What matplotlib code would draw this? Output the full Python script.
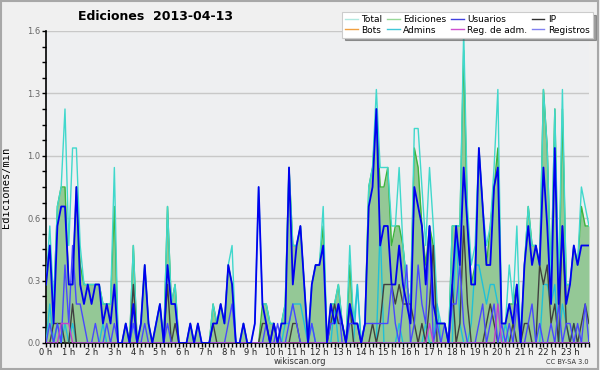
import matplotlib
matplotlib.use('Agg')
import matplotlib.pyplot as plt
import matplotlib.ticker as mticker
from matplotlib.lines import Line2D
from matplotlib.patches import Rectangle
import numpy as np

# edits per minute, one value per 10 minute slot (24 h x 6)
total = [
    0.3, 0.6, 0.2, 0.7, 0.8, 1.2,  0.5, 1.0, 1.0, 0.5, 0.3, 0.3,
    0.3, 0.3, 0.3, 0.2, 0.2, 0.2,  0.9, 0.0, 0.0, 0.1, 0.0, 0.5,
    0.0, 0.1, 0.4, 0.1, 0.0, 0.1,  0.2, 0.0, 0.7, 0.2, 0.3, 0.0,
    0.0, 0.0, 0.1, 0.0, 0.1, 0.0,  0.0, 0.0, 0.2, 0.1, 0.2, 0.1,
    0.4, 0.5, 0.0, 0.0, 0.1, 0.0,  0.0, 0.1, 0.8, 0.2, 0.2, 0.1,
    0.1, 0.0, 0.1, 0.2, 0.9, 0.5,  0.5, 0.6, 0.3, 0.0, 0.3, 0.4,
    0.4, 0.7, 0.0, 0.2, 0.2, 0.3,  0.1, 0.0, 0.5, 0.1, 0.3, 0.0,
    0.1, 0.8, 0.9, 1.3, 0.9, 0.9,  0.9, 0.6, 0.6, 0.9, 0.5, 0.3,
    0.2, 1.1, 1.1, 0.8, 0.5, 0.9,  0.6, 0.2, 0.1, 0.1, 0.0, 0.6,
    0.6, 0.6, 1.6, 0.7, 0.4, 0.5,  1.0, 0.7, 0.5, 0.6, 0.9, 1.3,
    0.1, 0.1, 0.4, 0.2, 0.6, 0.0,  0.4, 0.7, 0.5, 0.5, 0.4, 1.3,
    1.0, 0.3, 1.2, 0.3, 1.3, 0.3,  0.3, 0.5, 0.4, 0.8, 0.7, 0.6,
]
ediciones = [
    0.3, 0.5, 0.2, 0.7, 0.8, 0.8,  0.3, 0.3, 0.8, 0.4, 0.3, 0.3,
    0.3, 0.3, 0.3, 0.2, 0.2, 0.2,  0.7, 0.0, 0.0, 0.1, 0.0, 0.5,
    0.0, 0.1, 0.4, 0.1, 0.0, 0.1,  0.2, 0.0, 0.7, 0.2, 0.3, 0.0,
    0.0, 0.0, 0.1, 0.0, 0.1, 0.0,  0.0, 0.0, 0.2, 0.1, 0.2, 0.1,
    0.4, 0.3, 0.0, 0.0, 0.1, 0.0,  0.0, 0.0, 0.0, 0.2, 0.2, 0.1,
    0.1, 0.0, 0.1, 0.2, 0.9, 0.5,  0.5, 0.6, 0.3, 0.0, 0.3, 0.4,
    0.4, 0.6, 0.0, 0.2, 0.2, 0.3,  0.1, 0.0, 0.4, 0.1, 0.1, 0.0,
    0.1, 0.8, 0.9, 1.2, 0.8, 0.8,  0.9, 0.5, 0.6, 0.6, 0.5, 0.3,
    0.2, 1.0, 0.9, 0.6, 0.4, 0.6,  0.5, 0.1, 0.1, 0.1, 0.0, 0.6,
    0.6, 0.6, 1.5, 0.6, 0.3, 0.4,  1.0, 0.7, 0.4, 0.6, 0.8, 1.0,
    0.1, 0.1, 0.2, 0.2, 0.3, 0.0,  0.4, 0.7, 0.5, 0.5, 0.4, 1.3,
    1.0, 0.3, 1.2, 0.2, 1.2, 0.3,  0.3, 0.5, 0.4, 0.7, 0.6, 0.6,
]
usuarios = [
    0.3, 0.5, 0.1, 0.6, 0.7, 0.7,  0.3, 0.3, 0.8, 0.3, 0.2, 0.3,
    0.2, 0.3, 0.3, 0.1, 0.2, 0.1,  0.3, 0.0, 0.0, 0.1, 0.0, 0.2,
    0.0, 0.1, 0.4, 0.1, 0.0, 0.1,  0.2, 0.0, 0.4, 0.2, 0.2, 0.0,
    0.0, 0.0, 0.1, 0.0, 0.1, 0.0,  0.0, 0.0, 0.1, 0.1, 0.2, 0.1,
    0.4, 0.3, 0.0, 0.0, 0.1, 0.0,  0.0, 0.1, 0.8, 0.2, 0.1, 0.0,
    0.1, 0.0, 0.1, 0.1, 0.9, 0.3,  0.5, 0.6, 0.3, 0.0, 0.3, 0.4,
    0.4, 0.5, 0.0, 0.2, 0.1, 0.2,  0.1, 0.0, 0.2, 0.1, 0.1, 0.0,
    0.1, 0.7, 0.8, 1.2, 0.5, 0.6,  0.6, 0.3, 0.3, 0.5, 0.3, 0.2,
    0.1, 0.8, 0.7, 0.6, 0.3, 0.6,  0.2, 0.1, 0.1, 0.1, 0.0, 0.3,
    0.6, 0.4, 0.9, 0.6, 0.3, 0.3,  1.0, 0.7, 0.4, 0.4, 0.8, 0.9,
    0.1, 0.1, 0.2, 0.1, 0.3, 0.0,  0.4, 0.6, 0.4, 0.5, 0.4, 0.9,
    0.6, 0.2, 1.0, 0.2, 0.6, 0.2,  0.3, 0.5, 0.4, 0.5, 0.5, 0.5,
]
ip = [
    0.0, 0.0, 0.1, 0.1, 0.1, 0.0,  0.0, 0.2, 0.0, 0.0, 0.0, 0.0,
    0.0, 0.0, 0.0, 0.0, 0.0, 0.0,  0.0, 0.0, 0.0, 0.0, 0.0, 0.3,
    0.0, 0.0, 0.0, 0.0, 0.0, 0.0,  0.0, 0.0, 0.3, 0.0, 0.1, 0.0,
    0.0, 0.0, 0.0, 0.0, 0.0, 0.0,  0.0, 0.0, 0.1, 0.0, 0.0, 0.0,
    0.0, 0.0, 0.0, 0.0, 0.0, 0.0,  0.0, 0.0, 0.0, 0.1, 0.1, 0.0,
    0.1, 0.0, 0.0, 0.0, 0.0, 0.1,  0.1, 0.0, 0.0, 0.0, 0.0, 0.0,
    0.0, 0.0, 0.0, 0.1, 0.2, 0.1,  0.1, 0.0, 0.2, 0.0, 0.0, 0.0,
    0.0, 0.0, 0.1, 0.0, 0.1, 0.3,  0.3, 0.3, 0.2, 0.3, 0.2, 0.2,
    0.2, 0.1, 0.0, 0.1, 0.0, 0.2,  0.5, 0.0, 0.0, 0.0, 0.0, 0.3,
    0.0, 0.1, 0.6, 0.2, 0.0, 0.0,  0.0, 0.0, 0.1, 0.2, 0.1, 0.0,
    0.0, 0.0, 0.0, 0.1, 0.0, 0.0,  0.1, 0.1, 0.0, 0.0, 0.4, 0.3,
    0.4, 0.1, 0.2, 0.0, 0.6, 0.1,  0.0, 0.1, 0.0, 0.1, 0.2, 0.1,
]
bots = [0.0] * 144
admins = [
    0.0, 0.2, 0.0, 0.1, 0.0, 0.1,  0.0, 0.1, 0.0, 0.0, 0.0, 0.0,
    0.0, 0.0, 0.0, 0.1, 0.0, 0.0,  0.0, 0.0, 0.0, 0.0, 0.0, 0.1,
    0.0, 0.0, 0.0, 0.0, 0.0, 0.0,  0.0, 0.0, 0.0, 0.0, 0.0, 0.0,
    0.0, 0.0, 0.0, 0.0, 0.0, 0.0,  0.0, 0.0, 0.0, 0.0, 0.0, 0.0,
    0.0, 0.0, 0.0, 0.0, 0.0, 0.0,  0.0, 0.0, 0.0, 0.0, 0.0, 0.0,
    0.0, 0.0, 0.0, 0.1, 0.1, 0.2,  0.2, 0.2, 0.1, 0.0, 0.1, 0.0,
    0.0, 0.0, 0.0, 0.0, 0.2, 0.0,  0.0, 0.0, 0.0, 0.0, 0.3, 0.0,
    0.0, 0.0, 0.0, 0.0, 0.6, 0.0,  0.0, 0.0, 0.0, 0.1, 0.0, 0.0,
    0.0, 0.0, 0.0, 0.0, 0.1, 0.0,  0.0, 0.2, 0.0, 0.0, 0.0, 0.0,
    0.6, 0.1, 0.0, 0.0, 0.1, 0.4,  0.4, 0.3, 0.2, 0.3, 0.3, 0.2,
    0.0, 0.1, 0.0, 0.0, 0.0, 0.0,  0.0, 0.0, 0.0, 0.0, 0.0, 0.3,
    0.3, 0.2, 0.3, 0.0, 0.2, 0.1,  0.0, 0.1, 0.0, 0.0, 0.0, 0.0,
]
reg_adm = [0.0] * 144
reg_adm[4] = 0.1
reg_adm[5] = 0.1
reg_adm[6] = 0.1
reg_adm[101] = 0.1
reg_adm[119] = 0.2
registros = [
    0.0, 0.1, 0.0, 0.1, 0.0, 0.4,  0.1, 0.5, 0.2, 0.2, 0.1, 0.0,
    0.0, 0.1, 0.0, 0.0, 0.1, 0.0,  0.1, 0.0, 0.0, 0.0, 0.0, 0.1,
    0.0, 0.0, 0.1, 0.0, 0.0, 0.0,  0.0, 0.0, 0.1, 0.0, 0.0, 0.0,
    0.0, 0.0, 0.0, 0.0, 0.0, 0.0,  0.0, 0.0, 0.0, 0.0, 0.0, 0.0,
    0.1, 0.2, 0.0, 0.0, 0.0, 0.0,  0.0, 0.0, 0.0, 0.0, 0.1, 0.0,
    0.0, 0.1, 0.0, 0.0, 0.1, 0.2,  0.1, 0.0, 0.0, 0.0, 0.1, 0.0,
    0.0, 0.0, 0.0, 0.1, 0.1, 0.2,  0.0, 0.0, 0.1, 0.1, 0.1, 0.0,
    0.1, 0.1, 0.1, 0.1, 0.1, 0.1,  0.1, 0.3, 0.1, 0.0, 0.2, 0.4,
    0.0, 0.1, 0.4, 0.2, 0.1, 0.6,  0.0, 0.1, 0.0, 0.1, 0.0, 0.2,
    0.2, 0.4, 0.1, 0.0, 0.0, 0.0,  0.1, 0.2, 0.0, 0.1, 0.2, 0.0,
    0.1, 0.0, 0.1, 0.0, 0.2, 0.0,  0.0, 0.1, 0.2, 0.0, 0.1, 0.0,
    0.0, 0.1, 0.0, 0.2, 0.0, 0.1,  0.1, 0.0, 0.1, 0.0, 0.2, 0.0,
]
hour_labels = [f'{h} h' for h in range(24)]

hours = np.arange(144) / 6.0

fig = plt.figure(figsize=(6, 3.7), dpi=100, facecolor='#f0f0f0')
ax = fig.add_axes((46 / 600, 1 - 343 / 370, 543 / 600, 312 / 370))
ax.set_facecolor('#eeeff1')

# frame round the whole picture
fig.patches.append(Rectangle((0.002, 0.003), 0.995, 0.994, transform=fig.transFigure,
                             fill=False, edgecolor='#a8a8a8', linewidth=1.5))

# grid first
for yv in np.arange(0.32, 1.61, 0.32):
    ax.axhline(yv, color='#c8c8c8', linewidth=1, zorder=1)

ax.fill_between(hours, ediciones, 0, color='#94c896', linewidth=0, zorder=2)
ax.plot(hours, bots, color='#f0a040', linewidth=1, zorder=2)
ax.plot(hours, ediciones, color='#3cb43c', linewidth=1, zorder=3)
ax.plot(hours, total, color='#40d8cc', linewidth=1, zorder=3)
ax.plot(hours, admins, color='#20c0d8', linewidth=1, zorder=4)
ax.plot(hours, ip, color='#404040', linewidth=1, zorder=4)
ax.plot(hours, registros, color='#4848ff', linewidth=1, zorder=4)
ax.plot(hours, reg_adm, color='#c040d0', linewidth=1, zorder=4)
ax.plot(hours, usuarios, color='#0000f0', linewidth=1.3, zorder=5)

ax.set_xlim(0, 143 / 6)
ax.set_ylim(0, 1.6)

# ticks
ax.xaxis.set_major_locator(mticker.FixedLocator(range(24)))
ax.xaxis.set_major_formatter(mticker.FixedFormatter(hour_labels))
ax.xaxis.set_minor_locator(mticker.MultipleLocator(1 / 6))
ax.yaxis.set_major_locator(mticker.FixedLocator(np.arange(0, 1.61, 0.32)))
ax.yaxis.set_major_formatter(mticker.FormatStrFormatter('%.1f'))
ax.yaxis.set_minor_locator(mticker.MultipleLocator(0.08))
ax.tick_params(axis='x', which='both', direction='out', length=3, width=1, pad=0.5,
               labelsize=6, labelcolor='#222222')
ax.tick_params(axis='y', which='both', direction='out', length=3, width=1, pad=1,
               labelsize=6, labelcolor='#666666')

for s in ['top', 'right']:
    ax.spines[s].set_visible(False)
ax.spines['left'].set_linewidth(1.2)
ax.spines['bottom'].set_linewidth(1.2)

ax.set_ylabel('Ediciones/min', family='DejaVu Sans Mono', fontsize=7.5, labelpad=12)
fig.text(155 / 600, 1 - 16 / 370, 'Ediciones  2013-04-13', ha='center', va='center',
         fontsize=9, fontweight='bold')
fig.text(300 / 600, 1 - 362 / 370, 'wikiscan.org', ha='center', va='center',
         fontsize=6, color='#333333')
fig.text(589 / 600, 1 - 362 / 370, 'CC BY-SA 3.0', ha='right', va='center',
         fontsize=4.8, color='#333333')

# legend with the pale colours used by the site
names = ['Total', 'Bots', 'Ediciones', 'Admins', 'Usuarios', 'Reg. de adm.', 'IP', 'Registros']
leg_colors = ['#b0e8e0', '#f0a040', '#98d898', '#40c8d8', '#4040e0', '#d050d0', '#303030', '#8080f0']
handles = [Line2D([], [], color=c, linewidth=1) for c in leg_colors]
leg = ax.legend(handles, names, ncol=4, loc='upper right',
                bbox_to_anchor=(593 / 600, 1 - 12 / 370), bbox_transform=fig.transFigure,
                fontsize=6.5, frameon=True, fancybox=False, shadow=True,
                handlelength=1.4, handletextpad=0.4, columnspacing=0.5,
                labelspacing=0.15, borderpad=0.35, borderaxespad=0)
leg.get_frame().set_edgecolor('#cccccc')
leg.get_frame().set_linewidth(0.8)
leg.set_zorder(10)

fig.savefig('out.png', dpi=100, facecolor=fig.get_facecolor())
